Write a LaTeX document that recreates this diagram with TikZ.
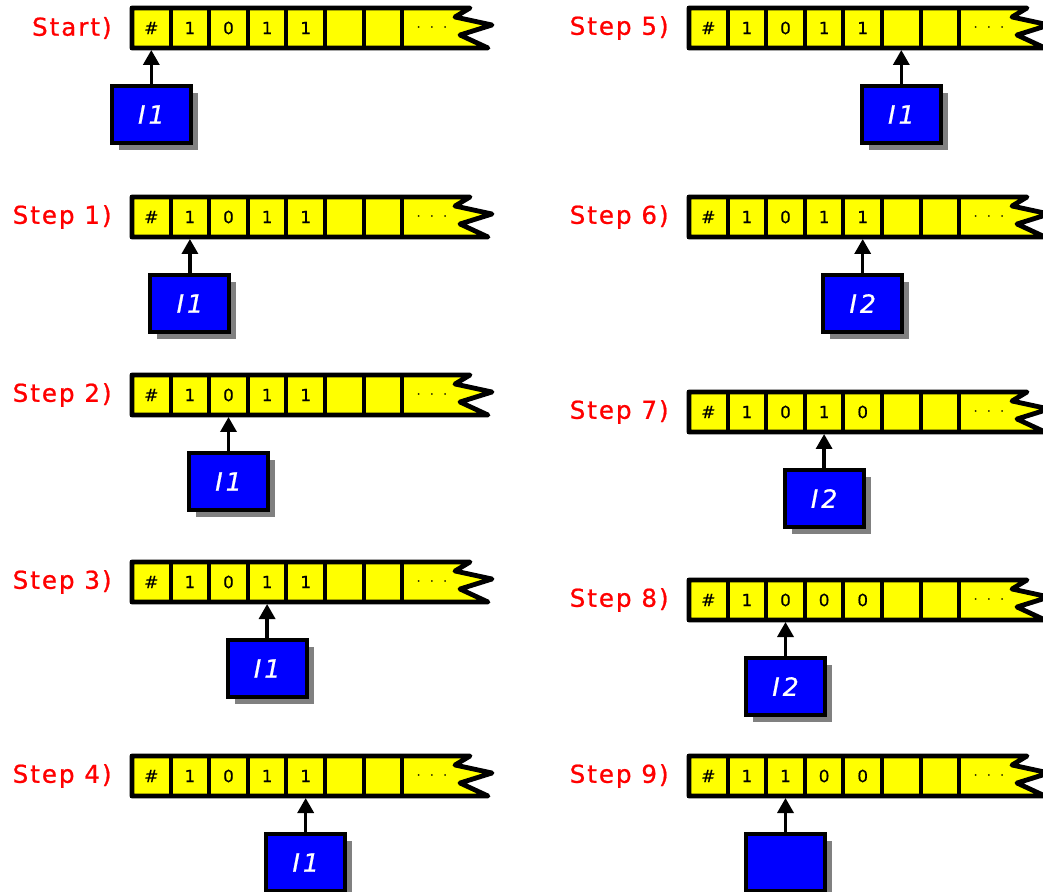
\documentclass[tikz,border=0pt]{standalone}
\usepackage{fontspec}
\setmainfont{DejaVu Sans}
\newfontfamily\lblfont[LetterSpace=8]{DejaVu Sans}
\newfontfamily\hdfont[LetterSpace=12]{DejaVu Sans}
\usetikzlibrary{arrows.meta,positioning,shadows}
\definecolor{tmyellow}{RGB}{255,255,0}
\definecolor{tmblue}{RGB}{0,0,255}
\definecolor{tmred}{RGB}{255,0,0}
\definecolor{tmshade}{RGB}{128,128,128}
\tikzset{
  tapeline/.style={draw=black, fill=tmyellow, line width=2.4pt, line join=round},
  cell/.style={draw=black, line width=2pt, minimum width=19.3pt, minimum height=20pt,
               inner sep=0pt, font=\fontsize{8.4}{9}\selectfont\addfontfeature{FakeBold=0.5}},
  dotcell/.style={inner sep=0pt, font=\fontsize{8}{9}\selectfont},
  head/.style={draw=black, fill=tmblue, line width=2pt, minimum width=39.5pt,
               minimum height=28.5pt, inner sep=0pt, text=white,
               font=\hdfont\itshape\fontsize{12.6}{14}\selectfont\addfontfeature{FakeBold=0.8},
               drop shadow={shadow xshift=3.5pt, shadow yshift=-3.5pt, opacity=1, fill=tmshade}},
  lbl/.style={text=tmred, font=\lblfont\fontsize{12.3}{14}\selectfont\addfontfeature{FakeBold=0.8},
              inner sep=0pt},
  hdarr/.style={-{Triangle[width=8pt,length=7.5pt]}, line width=1.7pt},
}
\newcommand{\tmtape}[5]{%
  \path[tapeline] (#2,#3-20) -- ++(338,0) -- ++(-15,9) -- ++(37,8)
    -- ++(-32,10) -- ++(28,13) -- (#2,#3+20) -- cycle;
  \node[cell] (#1-0) at ({#2+19.3},#3) {\itshape\#};
  \foreach \s [count=\k] in {#5,{},{}}
    \node[cell] (#1-\k) at ({#2+19.3+38.6*\k},#3) {\s};
  \node[dotcell] (#1-7) at ({#2+300},#3) {$\cdot\;\cdot\;\cdot$};
  \node[lbl, left=9pt of #1-0] (#1-lbl) {#4};}
\newcommand{\tmhead}[3]{%
  \node[head, below=17pt of #2] (#1) {#3};
  \draw[hdarr] (#1) -- (#2);}

\begin{document}
\begin{tikzpicture}[x=0.5pt, y=-0.5pt]
  \useasboundingbox (0,0) rectangle (1043,892);
  % left column
  \tmtape{ta}{132}{28}{Start)}{1,0,1,1}   \tmhead{ha}{ta-0}{I1}
  \tmtape{tb}{132}{217}{Step 1)}{1,0,1,1} \tmhead{hb}{tb-1}{I1}
  \tmtape{tc}{132}{395}{Step 2)}{1,0,1,1} \tmhead{hc}{tc-2}{I1}
  \tmtape{td}{132}{582}{Step 3)}{1,0,1,1} \tmhead{hd}{td-3}{I1}
  \tmtape{te}{132}{776}{Step 4)}{1,0,1,1} \tmhead{he}{te-4}{I1}
  % right column
  \tmtape{tf}{689}{28}{Step 5)}{1,0,1,1}  \tmhead{hf}{tf-5}{I1}
  \tmtape{tg}{689}{217}{Step 6)}{1,0,1,1} \tmhead{hg}{tg-4}{I2}
  \tmtape{th}{689}{412}{Step 7)}{1,0,1,0} \tmhead{hh}{th-3}{I2}
  \tmtape{ti}{689}{600}{Step 8)}{1,0,0,0} \tmhead{hi}{ti-2}{I2}
  \tmtape{tj}{689}{776}{Step 9)}{1,1,0,0} \tmhead{hj}{tj-2}{}
\end{tikzpicture}
\end{document}
